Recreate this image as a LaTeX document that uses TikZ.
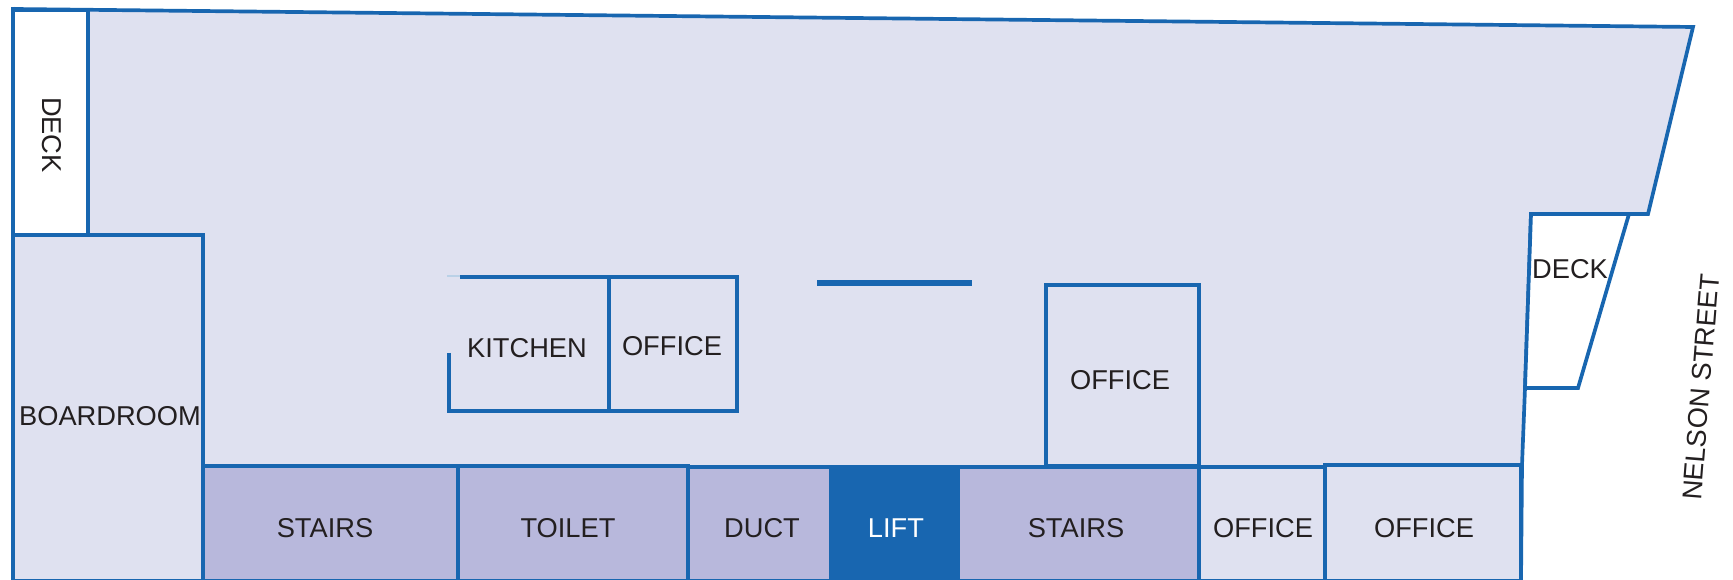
\documentclass[tikz,border=0pt]{standalone}
\usepackage{fontspec}
\setmainfont{Liberation Sans}
\definecolor{wallblue}{RGB}{24,102,176}
\definecolor{floorfill}{RGB}{223,225,240}
\definecolor{corefill}{RGB}{184,184,220}
\definecolor{inktext}{RGB}{35,31,32}
\begin{document}
\begin{tikzpicture}[x=.01cm,y=-.01cm,font=\fontsize{7.75}{9}\selectfont,line join=miter,
		wall/.style={draw=wallblue,line width=1.05pt},
		roomname/.style={inner sep=0pt,text=inktext}]
		\useasboundingbox (0,-1) rectangle (1733,579);
		%floor outline
		\draw[wall,fill=floorfill] (13,8)--(1693,26)--(1648,213)--(1531,213)--(1525,387)--(1522,464)--(1521,580)--(13,580)--cycle;
		\draw[wallblue,line width=1.3pt] (13,6)--(13,580);
		%decks
		\draw[wall,fill=white] (13,9) rectangle (88,234);
		\draw[wallblue,line width=1.3pt] (13,6)--(13,234);
		\draw[wall,fill=white] (1531,213)--(1629,213)--(1578,387)--(1525,387)--cycle;
		%left side and bottom row
		\draw[wall] (13,234) rectangle (203,580);
		\draw[wall,fill=corefill] (203,465) rectangle (458,580);
		\draw[wall,fill=corefill] (458,465) rectangle (688,580);
		\draw[wall,fill=corefill] (688,466) rectangle (831,580);
		\draw[wall,fill=wallblue] (831,466) rectangle (958,580);
		\draw[wall,fill=corefill] (958,466) rectangle (1199,580);
		\draw[wall] (1199,466) rectangle (1325,580);
		\draw[wall] (1325,464) rectangle (1521,580);
		%inner rooms
		\draw[wall] (1046,284) rectangle (1199,465);
		\draw[wall] (609,276) rectangle (737,410);
		\draw[wall] (460,276)--(609,276) (449,352)--(449,410)--(609,410);
		\draw[wallblue!30,line width=.3pt] (447,275)--(460,275);
		\draw[wallblue,line width=1.5pt] (817,282)--(972,282);
		%labels
		\node[roomname,rotate=-90] (deckleft) at (52,134) {DECK};
		\node[roomname] (deckright) at (1570,268) {DECK};
		\node[roomname,rotate=85.4] (nelson) at (1701,386) {NELSON STREET};
		\node[roomname] (boardroom) at (110,415) {BOARDROOM};
		\node[roomname] (kitchen) at (527,347) {KITCHEN};
		\node[roomname] (officea) at (672,345) {OFFICE};
		\node[roomname] (officeb) at (1120,379) {OFFICE};
		\node[roomname] (stairsa) at (325,527) {STAIRS};
		\node[roomname] (toilet) at (568,527) {TOILET};
		\node[roomname] (duct) at (762,527) {DUCT};
		\node[roomname,text=white] (lift) at (896,527) {LIFT};
		\node[roomname] (stairsb) at (1076,527) {STAIRS};
		\node[roomname] (officec) at (1263,527) {OFFICE};
		\node[roomname] (officed) at (1424,527) {OFFICE};
\end{tikzpicture}
\end{document}
